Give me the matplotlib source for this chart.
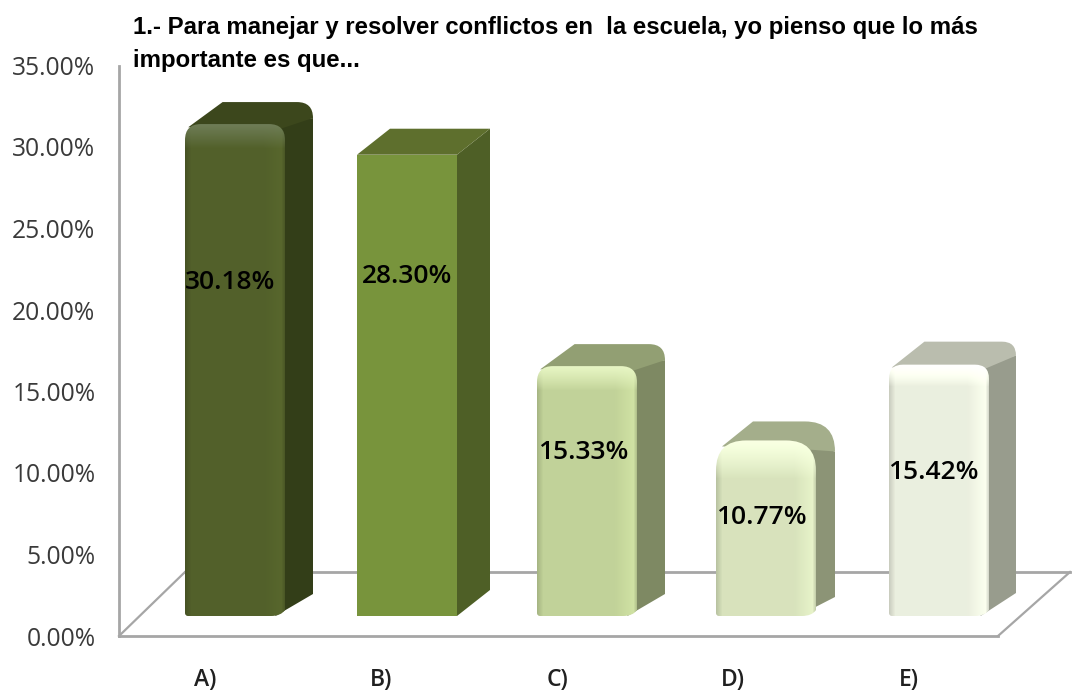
import numpy as np
import matplotlib
matplotlib.use("Agg")
import matplotlib.pyplot as plt
from matplotlib.path import Path
from matplotlib.patches import PathPatch

# ----- Data -----
categories = ["A)", "B)", "C)", "D)", "E)"]
values = [30.18, 28.30, 15.33, 10.77, 15.42]
value_labels = ["30.18%", "28.30%", "15.33%", "10.77%", "15.42%"]
y_ticks = [0, 5, 10, 15, 20, 25, 30, 35]
title = "1.- Para manejar y resolver conflictos en  la escuela, yo pienso que lo más\nimportante es que..."

# ----- Styles, one per bar -----
front_colors = ["#52602A", "#78943C", "#C2D399", "#D8E3BC", "#EBEFDF"]
top_colors = ["#3C471C", "#5E6F2D", "#929F73", "#A4AE8B", "#BABDAE"]
side_colors = ["#333E18", "#4E5F26", "#7E8963", "#8C9476", "#989C8D"]
radius = [16, 0, 16, 30, 14]
depth_x = [28, 33, 28, 19, 27]
depth_y = [22, 26, 22, 19, 23]
nudge = [0, -4, 0, 3, 0]
label_y = [21.68, 22.03, 11.25, 7.25, 10.05]
label_x = [-5, 0, -4, -5, -6]
line_color = "#A6A6A6"

# ----- Scale of the picture -----
px_x = 176.0
px_y = 16.3
x0_px = 235.0
y0_px = 636.0
bar_w = 100
base_px = 20

fig = plt.figure(figsize=(10.72, 6.92), dpi=100)
ax = fig.add_axes([0, 0, 1, 1])
ax.patch.set_visible(False)
xlim = (-x0_px / px_x, (1072 - x0_px) / px_x)
ylim = (-(692 - y0_px) / px_y, y0_px / px_y)
left_x = (119 - x0_px) / px_x
right_x = (998 - x0_px) / px_x


def to_data(i, dx, dy):
    # px offsets from the left end of the bar base -> data coords
    return (i + (nudge[i] - bar_w / 2 + dx) / px_x, (base_px + dy) / px_y)


def make_path(i, moves):
    verts = [to_data(i, p[1], p[2]) for p in moves]
    codes = [p[0] for p in moves]
    return Path(verts, codes)


M, L, Q, C = Path.MOVETO, Path.LINETO, Path.CURVE3, Path.CLOSEPOLY

# ----- Walls and floor -----
back_y = (y0_px - 572) / px_y
floor_dx = 66 / px_x
ax.plot([left_x, left_x + floor_dx], [0, back_y], color=line_color, lw=1.6, zorder=1)
ax.plot([left_x + floor_dx, right_x + 72 / px_x], [back_y, back_y], color=line_color, lw=2, zorder=1)
ax.plot([right_x, right_x + 72 / px_x], [0, back_y], color=line_color, lw=1.6, zorder=1)

# ----- Bars -----
for i, v in enumerate(values):
    h = v * px_y
    r = radius[i]
    dx = depth_x[i]
    dy = depth_y[i]
    w = bar_w

    # side face
    side = [(M, w - r * 0.6, 0), (L, w + dx, dy), (L, w + dx, h + dy - r), (L, w - r, h), (C, w - r * 0.6, 0)]
    ax.add_patch(PathPatch(make_path(i, side), fc=side_colors[i], ec="none", zorder=2))

    # top face
    if r > 0:
        top = [(M, r * 0.2, h - r * 0.2), (L, r * 0.6 + dx, h + dy),
               (L, w + dx - r, h + dy), (Q, w + dx, h + dy), (Q, w + dx, h + dy - r),
               (L, w - r * 0.3, h - r * 0.3), (C, r * 0.2, h - r * 0.2)]
    else:
        top = [(M, 0, h), (L, dx, h + dy), (L, w + dx, h + dy), (L, w, h), (C, 0, h)]
    ax.add_patch(PathPatch(make_path(i, top), fc=top_colors[i], ec="none", zorder=3))

    # front face, shaded when the bar has soft edges
    if r > 0:
        front = [(M, 0, 3), (Q, 0, 0), (Q, 3, 0), (L, w - 14, 0), (Q, w - 4, 0), (Q, w, 6),
                 (L, w, h - r), (Q, w, h), (Q, w - r, h), (L, r, h), (Q, 0, h), (Q, 0, h - r), (C, 0, 3)]
    else:
        front = [(M, 0, 0), (L, w, 0), (L, w, h), (L, 0, h), (C, 0, 0)]
    front_path = make_path(i, front)
    rgb = np.array(matplotlib.colors.to_rgb(front_colors[i]))
    rows = int(h) + 1
    img = np.tile(rgb, (rows, w, 1))
    if r > 0:
        xs = np.arange(w)
        prof = np.ones(w)
        prof[:6] = 0.86 + 0.14 * xs[:6] / 6
        prof[78:96] = 1.0 + 0.07 * (xs[78:96] - 78) / 18
        prof[96:] = 1.07 - 0.2 * (xs[96:] - 96) / 4
        img = img * prof[None, :, None]
        # lighter band along the top edge, going to white on pale bars
        band = np.clip(1 - np.arange(rows) / (r + 8.0), 0, 1)[:, None, None]
        img = img + (1.2 * rgb * 0.5 + 0.5 * np.maximum(rgb, 0.3) * 1.1 - img) * band
        img = img + (1 - img) * band * 0.35 * rgb.mean()
        img = np.clip(img, 0, 1)
    x_l = to_data(i, 0, 0)[0]
    x_r = to_data(i, w, 0)[0]
    y_b = base_px / px_y
    y_t = (base_px + h) / px_y
    im = ax.imshow(img, extent=(x_l, x_r, y_b, y_t), origin="upper", aspect="auto",
                   interpolation="bilinear", zorder=4)
    im.set_clip_path(PathPatch(front_path, transform=ax.transData))
    im.set_clip_box(ax.bbox)

    ax.text(i + (nudge[i] + label_x[i]) / px_x, label_y[i], value_labels[i], ha="center", va="center",
            fontsize=19, fontfamily="Open Sans", fontweight=600, color="#000000", zorder=6)

ax.set_xlim(xlim)
ax.set_ylim(ylim)

# ----- Axes -----
for name in ["top", "right"]:
    ax.spines[name].set_visible(False)
ax.spines["left"].set_position(("data", left_x))
ax.spines["left"].set_bounds(0, 35)
ax.spines["bottom"].set_position(("data", 0))
ax.spines["bottom"].set_bounds(left_x, right_x)
ax.spines["left"].set_color(line_color)
ax.spines["bottom"].set_color(line_color)
ax.spines["left"].set_linewidth(2)
ax.spines["bottom"].set_linewidth(2)
ax.set_yticks(y_ticks)
ax.set_yticklabels(["%.2f%%" % t for t in y_ticks], fontsize=17.7, fontfamily="Open Sans", color="#3A3A3A")
ax.set_xticks(np.arange(len(categories)) - 30 / px_x)
ax.set_xticklabels(categories, fontsize=16.5, fontfamily="Open Sans", fontweight=600, color="#202020")
ax.tick_params(axis="y", length=0, pad=17)
ax.tick_params(axis="x", length=0, pad=23)

fig.text(133 / 1072, 1 - 44 / 692, title, ha="left", va="center", fontsize=17.3,
         fontfamily="Liberation Sans", fontweight="bold", color="#000000", linespacing=1.52)

fig.savefig("out.png", dpi=100)
